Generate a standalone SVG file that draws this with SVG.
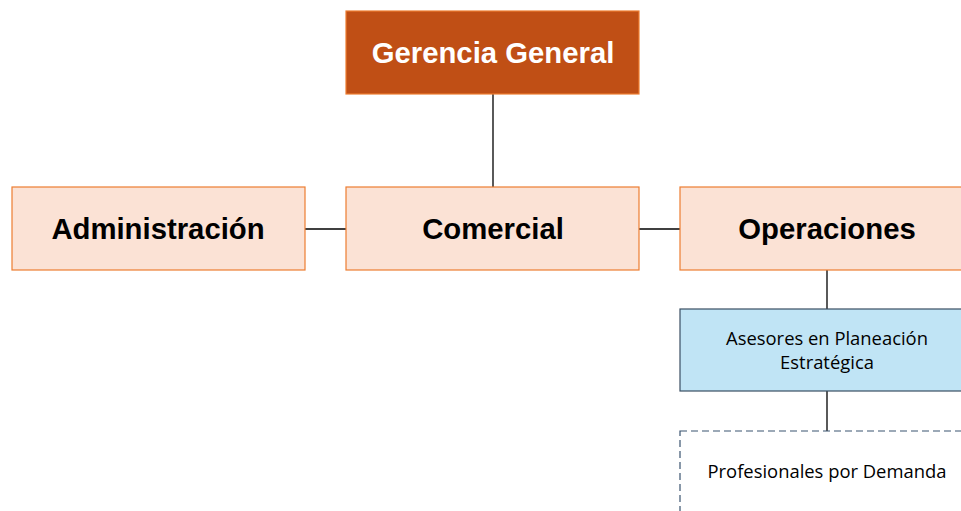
<svg xmlns="http://www.w3.org/2000/svg" width="961" height="511" viewBox="0 0 961 511">
<style>
.top{fill:#C04F15;stroke:#ED7D31;stroke-width:1.2}
.dep{fill:#FBE2D5;stroke:#ED7D31;stroke-width:1.2}
.ase{fill:#C0E4F5;stroke:#3A4F63;stroke-width:1.2}
.pro{fill:#FFFFFF;stroke:#3A5470;stroke-width:1.2;stroke-dasharray:7 4}
.con{stroke:#000;stroke-width:1.3;fill:none}
.tb{font-family:"Liberation Sans",Arial,sans-serif;font-weight:bold;font-size:29.3px;text-anchor:middle}
.tn{font-family:"Open Sans","Noto Sans",sans-serif;font-size:18.4px;text-anchor:middle;fill:#000}
</style>
<rect width="961" height="511" fill="#fff"/>
<g id="connectors">
<line class="con" x1="493" y1="94" x2="493" y2="187"/>
<line class="con" x1="305" y1="229" x2="346" y2="229"/>
<line class="con" x1="639" y1="229" x2="680" y2="229"/>
<line class="con" x1="827" y1="270" x2="827" y2="309"/>
<line class="con" x1="827" y1="391" x2="827" y2="431"/>
</g>
<g id="gerencia">
<rect class="top" x="346" y="11" width="293" height="83"/>
<text class="tb" x="493" y="63" fill="#fff">Gerencia General</text>
</g>
<g id="administracion">
<rect class="dep" x="12" y="187" width="293" height="83"/>
<text class="tb" x="158" y="239" fill="#000">Administración</text>
</g>
<g id="comercial">
<rect class="dep" x="346" y="187" width="293" height="83"/>
<text class="tb" x="493" y="239" fill="#000">Comercial</text>
</g>
<g id="operaciones">
<rect class="dep" x="680" y="187" width="293" height="83"/>
<text class="tb" x="827" y="239" fill="#000">Operaciones</text>
</g>
<g id="asesores">
<rect class="ase" x="680" y="309" width="293" height="82"/>
<text class="tn" x="827" y="345">Asesores en Planeación</text>
<text class="tn" x="827" y="369">Estratégica</text>
</g>
<g id="profesionales">
<rect class="pro" x="680" y="431" width="293" height="100"/>
<text class="tn" x="827" y="478">Profesionales por Demanda</text>
</g>
</svg>
